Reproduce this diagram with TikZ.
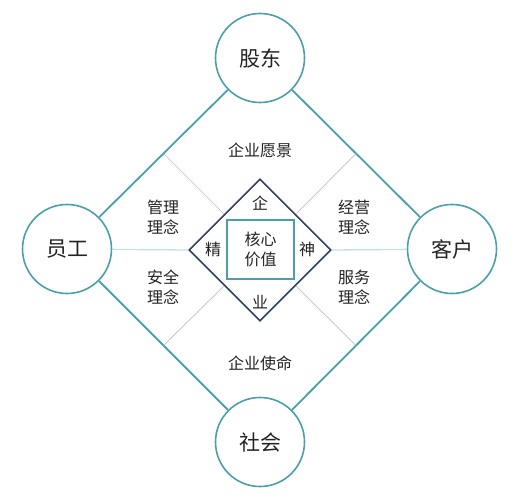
\documentclass[tikz,border=0pt]{standalone}
\usepackage{fontspec}
\setmainfont{Noto Sans CJK SC}
\usetikzlibrary{positioning,shapes.geometric,calc}
\definecolor{ringteal}{RGB}{74,160,170}
\definecolor{coreblue}{RGB}{45,65,95}
\definecolor{splitgray}{RGB}{192,192,192}
\definecolor{paleteal}{RGB}{195,225,228}
\definecolor{inktext}{RGB}{35,35,35}

\begin{document}
\begin{tikzpicture}[x=1pt,y=-1pt,
	party/.style={circle,draw=ringteal,line width=1.6pt,minimum size=89pt,inner sep=0pt,text=inktext,font=\fontsize{21}{23}\selectfont},
	bond/.style={draw=ringteal,line width=1.8pt},
	split/.style={draw=splitgray,line width=0.7pt},
	axis/.style={draw=paleteal,line width=1.3pt},
	idea/.style={text=inktext,align=center,inner sep=0pt,font=\fontsize{16}{20}\selectfont},
	spirit/.style={diamond,draw=coreblue,line width=1.6pt,minimum size=142pt,inner sep=0pt,aspect=1},
	corebox/.style={rectangle,draw=ringteal,line width=1.6pt,minimum width=67pt,minimum height=59pt,inner sep=0pt}]
	\useasboundingbox (0,0) rectangle (518,500);
	% four parties
	\node[party] (gd) at (260,58) {股东};
	\node[party] (yg) at (67,249) {员工};
	\node[party] (kh) at (452,249) {客户};
	\node[party] (sh) at (260,442) {社会};
	\draw[bond] (gd) -- (yg);
	\draw[bond] (gd) -- (kh);
	\draw[bond] (sh) -- (yg);
	\draw[bond] (sh) -- (kh);
	% inner core
	\node[spirit] (jsh) at (260,250) {};
	\node[corebox] (hx) at (260.5,249.5) {};
	\node[idea] at (hx) {核心\\价值};
	\node[idea] (qi) at (260,203) {企};
	\node[idea] (ye) at (260,302) {业};
	\node[idea] (jing) at (213,249) {精};
	\node[idea] (shen) at (307,249) {神};
	% dividers
	\coordinate (ul) at ($(gd.center)!0.5!(yg.center)$);
	\coordinate (ur) at ($(gd.center)!0.5!(kh.center)$);
	\coordinate (ll) at ($(sh.center)!0.5!(yg.center)$);
	\coordinate (lr) at ($(sh.center)!0.5!(kh.center)$);
	\draw[split] (ul) -- (jsh.north west);
	\draw[split] (ur) -- (jsh.north east);
	\draw[split] (ll) -- (jsh.south west);
	\draw[split] (lr) -- (jsh.south east);
	\draw[axis] (yg) -- (jsh.west);
	\draw[axis] (kh) -- (jsh.east);
	% ideas
	\node[idea] (vision) at (260,150) {企业愿景};
	\node[idea] (mission) at (260,363) {企业使命};
	\node[idea] (manage) at (163,217) {管理\\理念};
	\node[idea] (operate) at (354,217) {经营\\理念};
	\node[idea] (safety) at (163,287) {安全\\理念};
	\node[idea] (service) at (354,287) {服务\\理念};
\end{tikzpicture}
\end{document}
